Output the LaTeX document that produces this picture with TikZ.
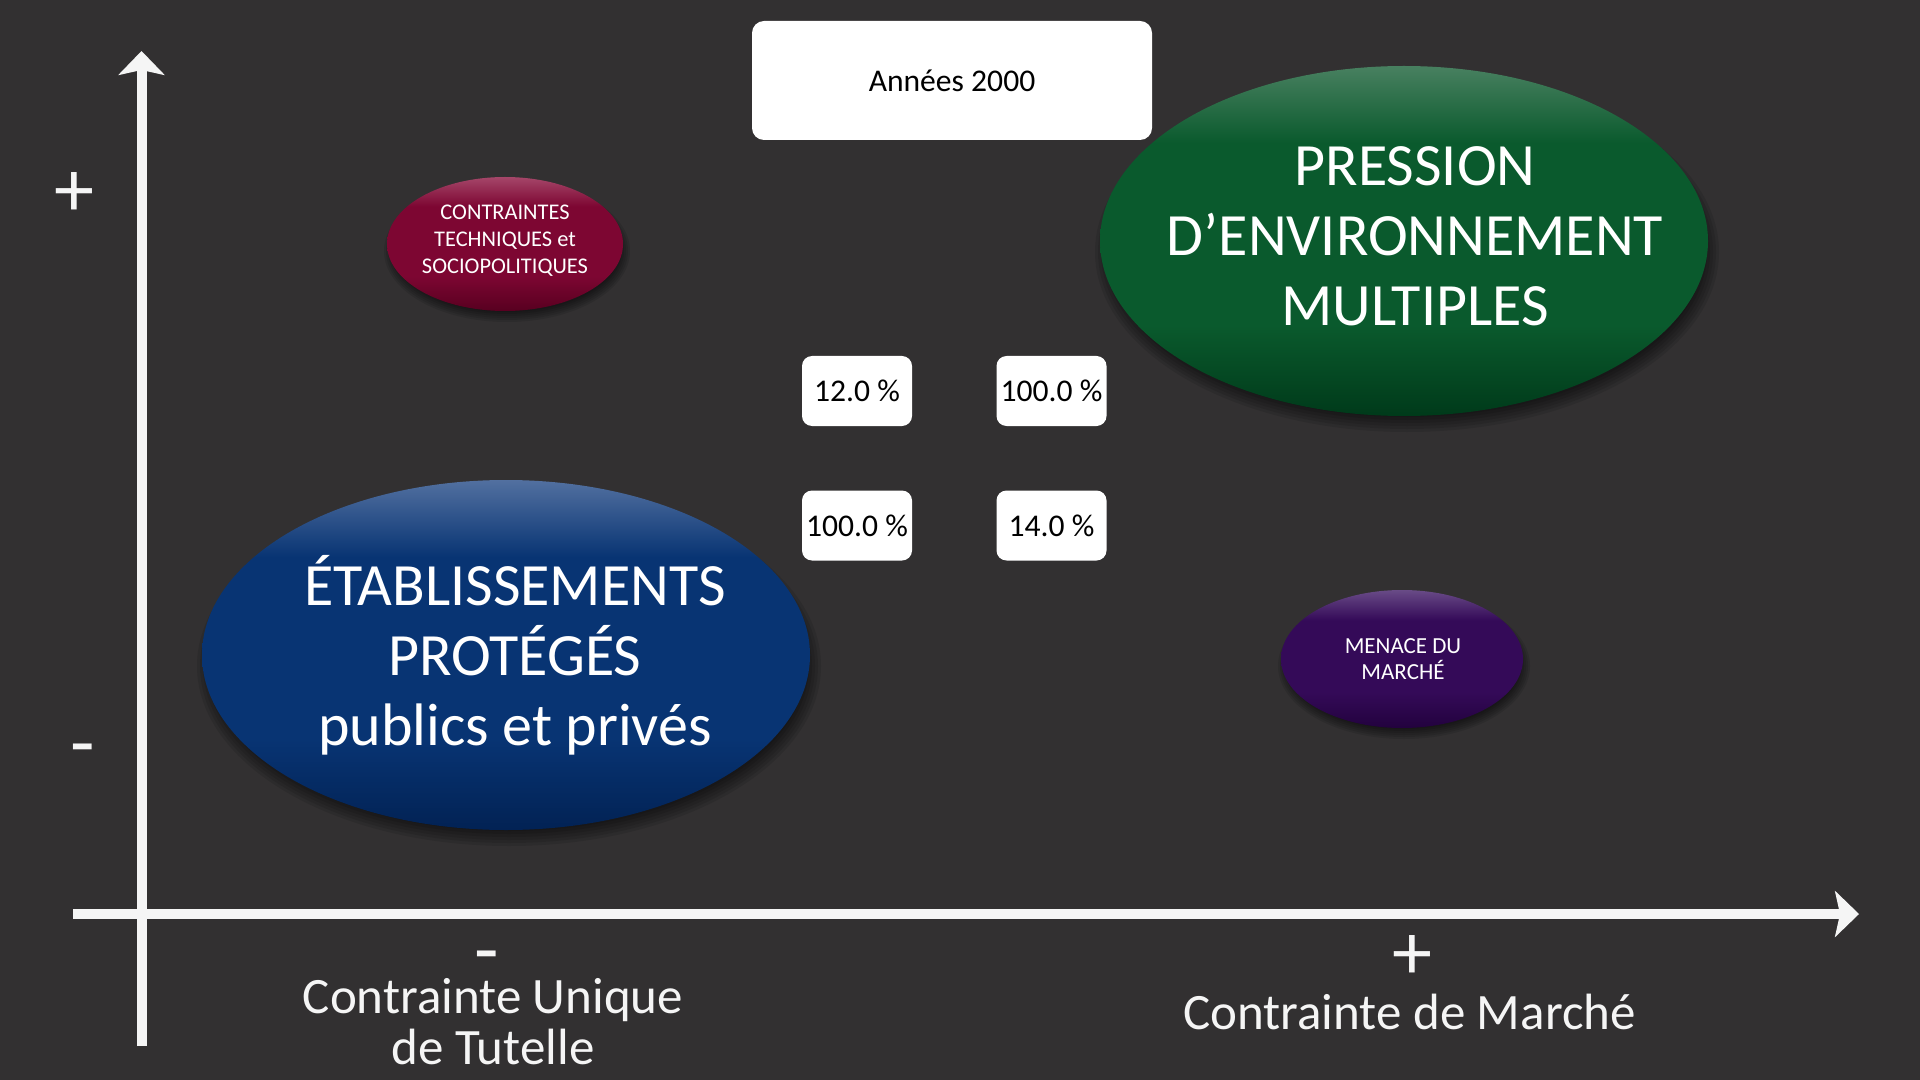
\documentclass[tikz,border=0pt]{standalone}
\usepackage{fontspec}
\setmainfont{Carlito}
\usetikzlibrary{shapes.geometric,arrows.meta}
\definecolor{bg}{RGB}{50,48,49}
\definecolor{glight}{RGB}{72,128,96}
\definecolor{gbase}{RGB}{10,90,45}
\definecolor{gdark}{RGB}{0,58,26}
\definecolor{blight}{RGB}{82,112,160}
\definecolor{bbase}{RGB}{8,52,115}
\definecolor{bdark}{RGB}{2,34,84}
\definecolor{rlight}{RGB}{165,70,105}
\definecolor{rbase}{RGB}{125,6,50}
\definecolor{rdark}{RGB}{88,0,32}
\definecolor{plight}{RGB}{105,75,135}
\definecolor{pbase}{RGB}{52,10,88}
\definecolor{pdark}{RGB}{34,2,62}
\definecolor{axiscol}{RGB}{245,245,245}
\pgfdeclareverticalshading{gsh}{100bp}{color(0bp)=(gdark); color(25bp)=(gdark); color(38bp)=(gbase); color(64bp)=(gbase); color(75bp)=(glight); color(100bp)=(glight)}
\pgfdeclareverticalshading{bsh}{100bp}{color(0bp)=(bdark); color(25bp)=(bdark); color(38bp)=(bbase); color(64bp)=(bbase); color(75bp)=(blight); color(100bp)=(blight)}
\pgfdeclareverticalshading{rsh}{100bp}{color(0bp)=(rdark); color(25bp)=(rdark); color(38bp)=(rbase); color(64bp)=(rbase); color(75bp)=(rlight); color(100bp)=(rlight)}
\pgfdeclareverticalshading{psh}{100bp}{color(0bp)=(pdark); color(25bp)=(pdark); color(38bp)=(pbase); color(64bp)=(pbase); color(75bp)=(plight); color(100bp)=(plight)}
\tikzset{
  bub/.style={ellipse, shade, draw=none, inner sep=0pt},
  bigtxt/.style={text=white, align=center, inner sep=0pt, font=\fontsize{30}{35}\selectfont},
  smalltxt/.style={text=white, align=center, inner sep=0pt, font=\fontsize{11.2}{13.5}\selectfont},
  whitebox/.style={fill=white, draw=none, rounded corners=5pt, inner sep=0pt, text=black, font=\fontsize{15.8}{18}\selectfont},
  axisline/.style={draw=axiscol, line width=5pt, -{Stealth[length=12pt,width=23pt,inset=2.5pt]}},
  axislabel/.style={text=axiscol, align=center, inner sep=0pt, font=\fontsize{25.5}{25.5}\selectfont},
  signtxt/.style={text=axiscol, inner sep=0pt, font=\fontsize{40}{40}\selectfont}
}
\begin{document}
\begin{tikzpicture}[x=0.5pt,y=-0.5pt]
\fill[bg] (0,0) rectangle (1920,1080);
\useasboundingbox (0,0) rectangle (1920,1080);

% drop shadows of the ellipses
\foreach \k in {0,...,5}{
  \fill[black,opacity=0.10] (1407,252) ellipse [x radius={312-3*\k}, y radius={180-3*\k}];
  \fill[black,opacity=0.10] (509,666) ellipse [x radius={312-3*\k}, y radius={180-3*\k}];
  \fill[black,opacity=0.10] (507,251) ellipse [x radius={123-2*\k}, y radius={71-2*\k}];
  \fill[black,opacity=0.10] (1404,666) ellipse [x radius={126-2*\k}, y radius={73-2*\k}];
}

% axes
\coordinate (yb) at (141.5,1046);
\coordinate (yt) at (141.5,51);
\coordinate (xl) at (73,914);
\coordinate (xr) at (1859,914);
\draw[axisline] (yb) -- (yt);
\draw[axisline] (xl) -- (xr);

% ellipses
\node[bub, shading=gsh, minimum width=304pt, minimum height=175pt] (gE) at (1404,241) {};
\node[bub, shading=bsh, minimum width=304pt, minimum height=175pt] (bE) at (506,655) {};
\node[bub, shading=rsh, minimum width=118pt, minimum height=67pt] (rE) at (505,244) {};
\node[bub, shading=psh, minimum width=121pt, minimum height=69pt] (pE) at (1402,659) {};

\node[bigtxt] (gT) at (1415,236) {PRESSION\\D’ENVIRONNEMENT\\MULTIPLES};
\node[bigtxt] (bT) at (515,655) {ÉTABLISSEMENTS\\PROTÉGÉS\\publics et privés};
\node[smalltxt] (rT) at (505,241) {CONTRAINTES\\TECHNIQUES et\\SOCIOPOLITIQUES};
\node[smalltxt, font=\fontsize{11.5}{13}\selectfont] (pT) at (1403,659) {MENACE DU\\MARCHÉ};

% white boxes
\node[whitebox, minimum width=200pt, minimum height=59.5pt, rounded corners=6pt] (year) at (952,80.5) {Années 2000};
\node[whitebox, minimum width=55pt, minimum height=35pt] (p1) at (857,391) {12.0 \%};
\node[whitebox, minimum width=55pt, minimum height=35pt] (p2) at (1051.5,391) {100.0 \%};
\node[whitebox, minimum width=55pt, minimum height=35pt] (p3) at (857,525.5) {100.0 \%};
\node[whitebox, minimum width=55pt, minimum height=35pt] (p4) at (1051.5,525.5) {14.0 \%};

% axis signs and labels
\node[signtxt] (yplus) at (74.5,195) {+};
\node[signtxt, anchor=base] (yminus) at (82.5,769) {-};
\node[signtxt, anchor=base] (xminus) at (486.5,976) {-};
\node[signtxt] (xplus) at (1412.5,957) {+};
\node[axislabel] (xlabL) at (493,1021.5) {Contrainte Unique\\de Tutelle};
\node[axislabel, anchor=base] (xlabR) at (1409.5,1029) {Contrainte de Marché};
\end{tikzpicture}
\end{document}
